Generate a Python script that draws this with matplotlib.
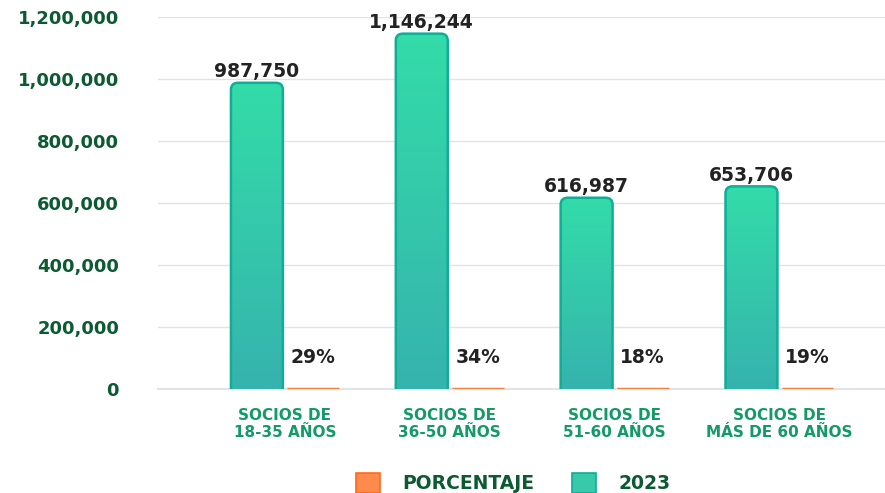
import matplotlib.pyplot as plt
import numpy as np
from matplotlib.patches import FancyBboxPatch, Patch
from matplotlib.colors import LinearSegmentedColormap
from matplotlib.ticker import FuncFormatter

# data
categories = ["SOCIOS DE\n18-35 AÑOS", "SOCIOS DE\n36-50 AÑOS",
              "SOCIOS DE\n51-60 AÑOS", "SOCIOS DE\nMÁS DE 60 AÑOS"]
socios_2023 = [987750, 1146244, 616987, 653706]
porcentaje = [29, 34, 18, 19]
yticks = [0, 200000, 400000, 600000, 800000, 1000000, 1200000]

DARK_GREEN = "#0b5a32"
CAT_GREEN = "#139a66"
TEAL_TOP = "#33dca8"
TEAL_BOT = "#36b3ae"
TEAL_EDGE = "#10ad97"
ORANGE = "#f5823f"

fig = plt.figure(figsize=(8.85, 4.93), dpi=100)
ax = fig.add_axes([158 / 885, 104 / 493, 727 / 885, 372 / 493])

x = np.arange(len(categories))
width = 0.315
off = 0.17
xmin, xmax = -0.77, 3.64

ax.set_xlim(xmin, xmax)
ax.set_ylim(0, 1200000)

# teal bars: plain bars give the geometry, then rounded gradient patches
bars = ax.bar(x - off, socios_2023, width, color="none", edgecolor="none")
px_x = (xmax - xmin) / 727
px_y = 1200000 / 372
rad = 7 * px_x
grad = np.linspace(0, 1, 256).reshape(-1, 1)
cmap = LinearSegmentedColormap.from_list("teal", [TEAL_BOT, TEAL_TOP])
for b in bars:
    bx, by = b.get_x(), b.get_y()
    bw, bh = b.get_width(), b.get_height()
    patch = FancyBboxPatch((bx, by - 20 * px_y), bw, bh + 20 * px_y,
                           boxstyle="round,pad=0,rounding_size=%f" % rad,
                           mutation_aspect=px_y / px_x,
                           facecolor="none", edgecolor=TEAL_EDGE, linewidth=1.8,
                           zorder=3)
    ax.add_patch(patch)
    im = ax.imshow(grad, extent=(bx, bx + bw, by, by + bh), origin="lower",
                   cmap=cmap, aspect="auto", zorder=2)
    im.set_clip_path(patch)
    ax.annotate("{:,}".format(b.get_height()), (bx + bw / 2, bh),
                xytext=(0, 1), textcoords="offset points",
                ha="center", va="bottom", fontsize=13.5, fontweight="bold",
                color="#222222", zorder=5)

# orange bars: tiny values, visible as a thin line
obars = ax.bar(x + off, porcentaje, width, color=ORANGE, edgecolor=ORANGE,
               linewidth=2.5, zorder=3)
for b, p in zip(obars, porcentaje):
    ax.annotate("%d%%" % p, (b.get_x() + b.get_width() / 2, 0),
                xytext=(0, 16), textcoords="offset points",
                ha="center", va="bottom", fontsize=13.5, fontweight="bold",
                color="#222222", zorder=5)

ax.set_xlim(xmin, xmax)
ax.set_ylim(0, 1200000)
ax.set_yticks(yticks)
ax.yaxis.set_major_formatter(FuncFormatter(lambda v, p: "{:,}".format(int(v))))
ax.set_xticks(x)
ax.set_xticklabels(categories)
ax.tick_params(axis="y", length=0, pad=28, labelsize=13, labelcolor=DARK_GREEN)
ax.tick_params(axis="x", length=0, pad=14, labelsize=11, labelcolor=CAT_GREEN)
for t in ax.get_yticklabels() + ax.get_xticklabels():
    t.set_fontweight("bold")
for t in ax.get_xticklabels():
    t.set_linespacing(1.1)

ax.grid(axis="y", color="#e3e3e3", linewidth=1)
ax.axhline(0, color="#e3e3e3", linewidth=1.5, clip_on=False, zorder=1)
ax.set_axisbelow(True)
for s in ax.spines.values():
    s.set_visible(False)

handles = [Patch(facecolor="#ff8a4c", edgecolor="#ff6a1a", linewidth=1.2),
           Patch(facecolor="#38c9aa", edgecolor=TEAL_EDGE, linewidth=1.2)]
leg = fig.legend(handles, ["PORCENTAJE", "2023"], loc="lower center",
                 bbox_to_anchor=(0.58, -0.035), ncol=2, frameon=False,
                 handlelength=1.3, handleheight=1.3, columnspacing=2.0,
                 handletextpad=1.2, prop={"size": 13.5, "weight": "bold"})
for t in leg.get_texts():
    t.set_color(DARK_GREEN)

plt.savefig("out.png", dpi=100)
